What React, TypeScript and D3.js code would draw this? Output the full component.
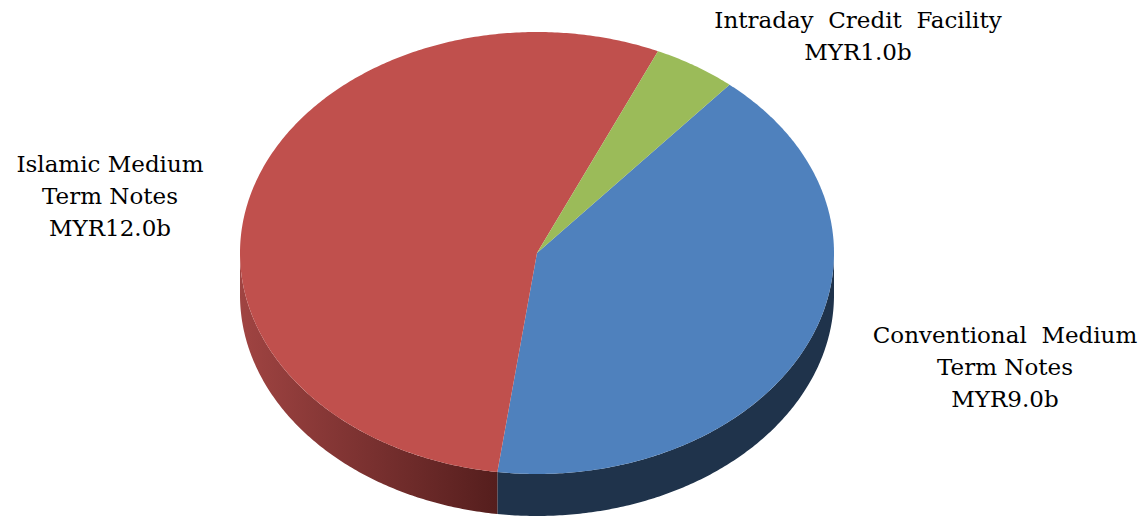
import React from "react";
import * as d3 from "d3";

const categories = ["Conventional Medium Term Notes", "Islamic Medium Term Notes", "Intraday Credit Facility"];
const values = [9.0, 12.0, 1.0];
const labelLines = [
  ["Conventional  Medium", "Term Notes", "MYR9.0b"],
  ["Islamic Medium", "Term Notes", "MYR12.0b"],
  ["Intraday  Credit  Facility", "MYR1.0b"],
];
const topColors = ["#4f81bd", "#c0504d", "#9bbb59"];
const sideColors = ["#1f334b", "url(#redSide)", "#5d7035"];

const W = 1145, H = 518;
const cx = 537, cy = 253, rx = 297, ry = 221, depth = 42;
const startDeg = 40.4;

const labelPos = [
  { x: 1005, y: 343 },
  { x: 110, y: 172 },
  { x: 858, y: 28 },
];

export default function App() {
  const xs = d3.scaleLinear().domain([-1, 1]).range([cx - rx, cx + rx]);
  const ys = d3.scaleLinear().domain([-1, 1]).range([cy - ry, cy + ry]);
  const pt = (a: number, dy = 0): [number, number] => [xs(Math.sin(a)), ys(-Math.cos(a)) + dy];

  const pie = d3
    .pie<number>()
    .sort(null)
    .startAngle((startDeg * Math.PI) / 180)
    .endAngle((startDeg * Math.PI) / 180 + 2 * Math.PI);
  const arcs = pie(values);

  const sample = (a0: number, a1: number, dy = 0) => {
    const n = Math.max(2, Math.ceil(Math.abs(a1 - a0) / 0.01));
    return d3.range(n + 1).map((i) => pt(a0 + ((a1 - a0) * i) / n, dy));
  };
  const line = d3.line();

  const tops = arcs.map((a) => {
    const pts: [number, number][] = [[cx, cy], ...sample(a.startAngle, a.endAngle)];
    return line(pts) + "Z";
  });

  // visible wall: angles in [PI/2, 3PI/2] modulo 2PI
  const walls = arcs.map((a) => {
    const res: string[] = [];
    for (const k of [-1, 0, 1]) {
      const lo = Math.PI / 2 + k * 2 * Math.PI;
      const hi = (3 * Math.PI) / 2 + k * 2 * Math.PI;
      const s = Math.max(a.startAngle, lo);
      const e = Math.min(a.endAngle, hi);
      if (e > s) {
        const top = sample(s, e);
        const bot = sample(e, s, depth);
        res.push(line([...top, ...bot]) + "Z");
      }
    }
    return res;
  });

  const font = "'DejaVu Serif', serif";

  return (
    <svg width={W} height={H} style={{ position: "absolute", left: 0, top: 0, background: "#fff" }}>
      <defs>
        <linearGradient id="redSide" gradientUnits="userSpaceOnUse" x1={cx - rx} y1={0} x2={497} y2={0}>
          <stop offset="0" stopColor="#a04442" />
          <stop offset="0.5" stopColor="#7a3130" />
          <stop offset="1" stopColor="#551e1d" />
        </linearGradient>
      </defs>
      {walls.map((ws, i) => ws.map((d, j) => <path key={`w${i}-${j}`} d={d} fill={sideColors[i]} />))}
      {tops.map((d, i) => (
        <path key={`t${i}`} d={d} fill={topColors[i]} />
      ))}
      {labelLines.map((lines, i) => (
        <g key={`l${i}`} aria-label={categories[i]}>
          {lines.map((t, j) => (
            <text
              key={j}
              x={labelPos[i].x}
              y={labelPos[i].y + j * 32}
              textAnchor="middle"
              fontFamily={font}
              fontSize={23}
              fill="#000"
              style={{ whiteSpace: "pre" }}
            >
              {t}
            </text>
          ))}
        </g>
      ))}
    </svg>
  );
}
